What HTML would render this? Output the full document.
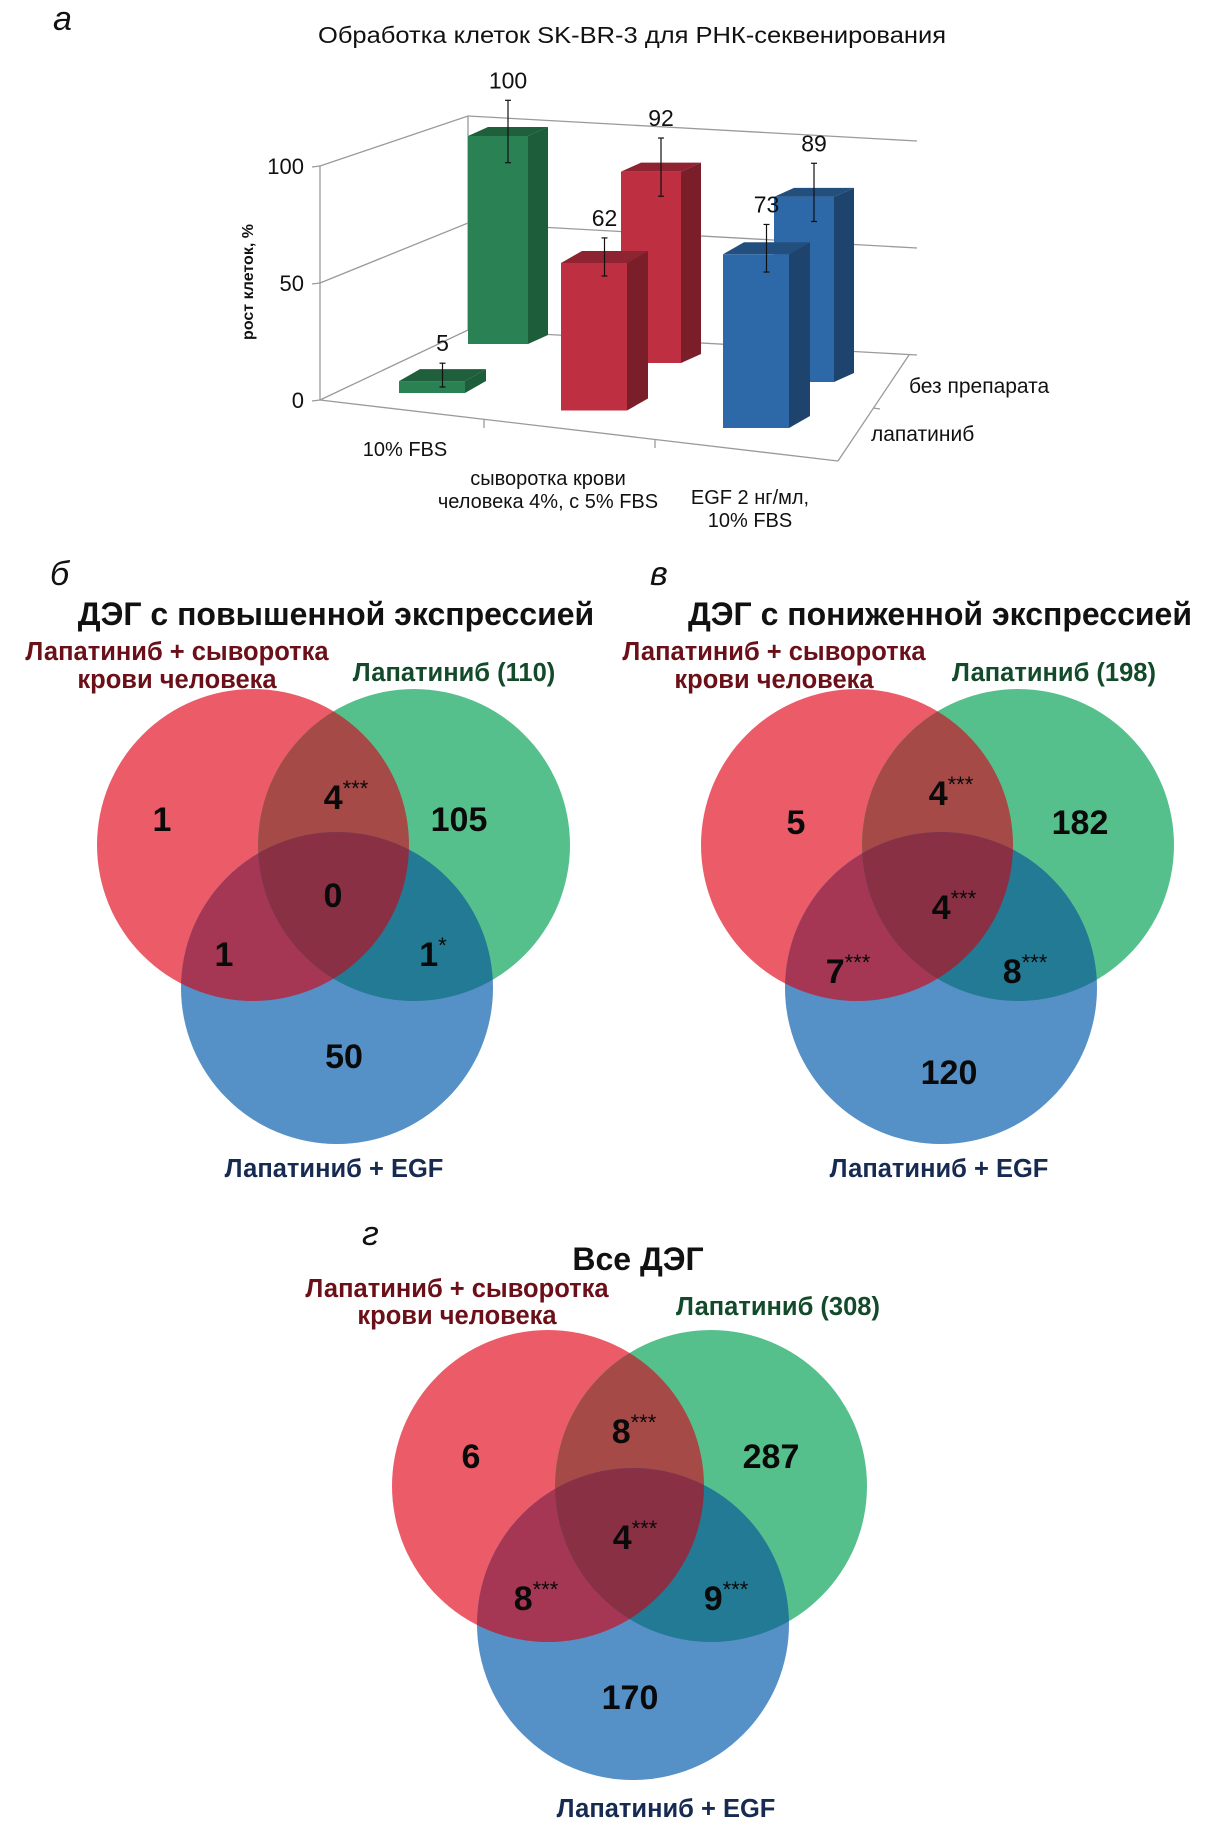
<!DOCTYPE html>
<html><head><meta charset="utf-8">
<style>
html,body{margin:0;padding:0;background:#fff;}
svg{display:block;}
.ch{font-family:"Liberation Sans Narrow","Liberation Sans",sans-serif;fill:#111;}
.vn{font-family:"Liberation Sans","DejaVu Sans",sans-serif;}
</style></head>
<body>
<svg id="root" width="1231" height="1825" viewBox="0 0 1231 1825" xmlns="http://www.w3.org/2000/svg">
<defs>
<clipPath id="cR1"><circle cx="253" cy="845" r="156"/></clipPath>
<clipPath id="cG1"><circle cx="414" cy="845" r="156"/></clipPath>
<clipPath id="cR2"><circle cx="857" cy="845" r="156"/></clipPath>
<clipPath id="cG2"><circle cx="1018" cy="845" r="156"/></clipPath>
<clipPath id="cR3"><circle cx="548" cy="1486" r="156"/></clipPath>
<clipPath id="cG3"><circle cx="711" cy="1486" r="156"/></clipPath>
</defs>
<g id="chart"></g>
<g id="venns"></g>
</svg>
<script>
const NS="http://www.w3.org/2000/svg";
const categories=["10% FBS","сыворотка крови человека 4%, с 5% FBS","EGF 2 нг/мл, 10% FBS"];
const seriesNames=["без препарата","лапатиниб"];
const backValues=[100,92,89];
const frontValues=[5,62,73];
const backErrors=[15,14,14];
const frontErrors=[5,8,10];
const yTicks=[0,50,100];

const vennUpCounts=["1","105","50","4","1","1","0"];
const vennDownCounts=["5","182","120","4","7","8","4"];
const vennAllCounts=["6","287","170","8","8","9","4"];
const vennUpStars=["","","","***","","*",""];
const vennDownStars=["","","","***","***","***","***"];
const vennAllStars=["","","","***","***","***","***"];

function mk(tag,attrs,parent,text){const e=document.createElementNS(NS,tag);for(const k in attrs)e.setAttribute(k,attrs[k]);if(text!==undefined)e.textContent=text;parent.appendChild(e);return e;}

// ---------- 3D bar chart ----------
const chart=document.getElementById('chart');
const backX=i=>468+i*153, backBase=i=>344+i*19, backScale=v=>v*2.08;
const frontX=i=>399+i*162, frontBase=i=>393+i*17.5, frontScale=v=>v*2.38;
const axisY=v=>400-v*2.34;

let t=mk('text',{x:53,y:30,'font-size':34,'font-style':'italic','font-family':'Liberation Sans,sans-serif',fill:'#111'},chart,'а');

t=mk('text',{x:318,y:43,'font-size':23,class:'ch',textLength:628,lengthAdjust:'spacingAndGlyphs'},chart,'Обработка клеток SK-BR-3 для РНК-секвенирования');


const g=mk('g',{stroke:'#9a9a9a','stroke-width':1.3,fill:'none'},chart);

mk('line',{x1:320,y1:166,x2:320,y2:400},g);
mk('line',{x1:320,y1:400,x2:838,y2:461},g);
mk('line',{x1:838,y1:461,x2:909,y2:355},g);
mk('line',{x1:468,y1:116,x2:468,y2:330},g);
yTicks.forEach(v=>{
  const fy=axisY(v), by=116+(100-v)*2.14, ry=141+(100-v)*2.14;
  const gl=mk('polyline',{points:`${320},${fy} ${468},${by} ${917},${ry}`},g);
  
  
  mk('line',{x1:312,y1:fy+1,x2:320,y2:fy},g);
  const tl=mk('text',{x:304,y:fy+8,'text-anchor':'end','font-size':22,class:'ch',stroke:'none'},chart,String(v));
  
  
});
mk('line',{x1:484,y1:419,x2:484,y2:428},g);
mk('line',{x1:655,y1:439,x2:655,y2:448},g);
mk('line',{x1:873,y1:408,x2:880,y2:409},g);
t=mk('text',{transform:'translate(253,282) rotate(-90)','text-anchor':'middle','font-size':16,'font-weight':'bold','font-family':'Liberation Sans,sans-serif',fill:'#111'},chart,'рост клеток, %');


const colors=[['#2a8153','#1d5d3a','#1f5f3c'],['#bd2f41','#7a1f2a','#8e2431'],['#2d69a8','#1e446e','#234f7f']];
function bar(x0,base,h,w,dx,dy,c,name){
  const gb=mk('g',{},chart);
  
  
  const top=base-h;
  mk('polygon',{points:`${x0+w},${top} ${x0+w+dx},${top+dy} ${x0+w+dx},${base+dy} ${x0+w},${base}`,fill:c[1]},gb);
  mk('polygon',{points:`${x0},${top} ${x0+dx},${top+dy} ${x0+w+dx},${top+dy} ${x0+w},${top}`,fill:c[2]},gb);
  mk('rect',{x:x0,y:top,width:w,height:h,fill:c[0]},gb);
  return top;
}
function errbar(cx,cy,e,name){
  const ge=mk('g',{stroke:'#111','stroke-width':1.2},chart);
  
  
  mk('line',{x1:cx,y1:cy-e,x2:cx,y2:cy+e},ge);
  mk('line',{x1:cx-3,y1:cy-e,x2:cx+3,y2:cy-e},ge);
  mk('line',{x1:cx-3,y1:cy+e,x2:cx+3,y2:cy+e},ge);
}
backValues.forEach((v,i)=>{
  const x0=backX(i),w=60,dx=20,dy=-9;
  const top=bar(x0,backBase(i),backScale(v),w,dx,dy,colors[i],'bar-back-'+i);
  const cx=x0+w/2+dx/2,cy=top+dy/2,e=backScale(backErrors[i]);
  errbar(cx,cy,e,'error-bar-back-'+i);
  const l=mk('text',{x:cx,y:cy-e-12,'text-anchor':'middle','font-size':23,class:'ch'},chart,String(v));
  
  
});
frontValues.forEach((v,i)=>{
  const x0=frontX(i),w=66,dx=21,dy=-12;
  const top=bar(x0,frontBase(i),frontScale(v),w,dx,dy,colors[i],'bar-front-'+i);
  const cx=x0+w/2+dx/2,cy=top+dy/2,e=frontScale(frontErrors[i]);
  errbar(cx,cy,e,'error-bar-front-'+i);
  const l=mk('text',{x:cx,y:cy-e-12,'text-anchor':'middle','font-size':23,class:'ch'},chart,String(v));
  
  
});
const catPos=[[405,[456]],[548,[485,508]],[750,[504,527]]];
const catLines=[["10% FBS"],["сыворотка крови","человека 4%, с 5% FBS"],["EGF 2 нг/мл,","10% FBS"]];
catLines.forEach((lines,i)=>{
  lines.forEach((ln,j)=>{
    const l=mk('text',{x:catPos[i][0],y:catPos[i][1][j],'text-anchor':'middle','font-size':20,class:'ch'},chart,ln);
    
    
  });
});
t=mk('text',{x:909,y:393,'font-size':21,class:'ch'},chart,seriesNames[0]);

t=mk('text',{x:871,y:441,'font-size':21,class:'ch'},chart,seriesNames[1]);


// ---------- Venn diagrams ----------
const V=document.getElementById('venns');
const C={R:'#ec5c68',G:'#55c08b',B:'#5590c6',RG:'#a54a47',RB:'#a53754',GB:'#237a94',RGB:'#8a3045'};
function venn(p){
  const gv=mk('g',{},V);
  
  
  const r=156,[rx,ry]=p.r,[gx,gy]=p.g,[bx,by]=p.b;
  let l=mk('text',{x:p.letter[0],y:p.letter[1],'font-size':34,'font-style':'italic','font-family':'Liberation Sans,sans-serif',fill:'#111'},gv,p.letter[2]);
  
  
  l=mk('text',{x:p.title[0],y:p.title[1],'text-anchor':'middle','font-size':p.title[3],'font-weight':'bold',class:'vn',fill:'#111'},gv,p.title[2]);
  
  
  p.redLab.forEach((ln,j)=>{
    const e=mk('text',{x:p.redX,y:p.redY[j],'text-anchor':'middle','font-size':25.5,'font-weight':'bold',class:'vn',fill:'#6b1018'},gv,ln);
    
    
  });
  l=mk('text',{x:p.greenLab[0],y:p.greenLab[1],'text-anchor':'middle','font-size':25.5,'font-weight':'bold',class:'vn',fill:'#124a2a'},gv,p.greenLab[2]);
  
  
  l=mk('text',{x:p.blueLab[0],y:p.blueLab[1],'text-anchor':'middle','font-size':25.5,'font-weight':'bold',class:'vn',fill:'#172b52'},gv,'Лапатиниб + EGF');
  
  
  let c=mk('circle',{cx:rx,cy:ry,r:r,fill:C.R},gv);
  
  c=mk('circle',{cx:gx,cy:gy,r:r,fill:C.G},gv);
  
  c=mk('circle',{cx:bx,cy:by,r:r,fill:C.B},gv);
  
  mk('circle',{cx:gx,cy:gy,r:r,fill:C.RG,'clip-path':`url(#${p.cr})`},gv);
  mk('circle',{cx:bx,cy:by,r:r,fill:C.RB,'clip-path':`url(#${p.cr})`},gv);
  mk('circle',{cx:bx,cy:by,r:r,fill:C.GB,'clip-path':`url(#${p.cg})`},gv);
  const inner=mk('g',{'clip-path':`url(#${p.cr})`},gv);
  mk('circle',{cx:bx,cy:by,r:r,fill:C.RGB,'clip-path':`url(#${p.cg})`},inner);
  p.counts.forEach((v,i)=>{
    const [x,y]=p.pos[i];
    const st=p.stars[i];
    const e=mk('text',{x:x+(st?st.length*6:0),y:y+12,'text-anchor':'middle','font-size':34,'font-weight':'bold',class:'vn',fill:'#0a0a0a'},gv);
    
    
    mk('tspan',{},e,v);
    if(st){mk('tspan',{dy:-13,'font-size':22,'font-weight':'normal'},e,st);}
  });
}
venn({name:'venn-upregulated',r:[253,845],g:[414,845],b:[337,988],cr:'cR1',cg:'cG1',
  letter:[50,585,'б'],title:[336,625,'ДЭГ с повышенной экспрессией',32],
  redLab:['Лапатиниб + сыворотка','крови человека'],redX:177,redY:[660,688],
  greenLab:[454,681,'Лапатиниб (110)'],blueLab:[334,1177],
  counts:vennUpCounts,stars:vennUpStars,
  pos:[[162,819],[459,819],[344,1056],[328,797],[224,954],[427,954],[333,895]]});
venn({name:'venn-downregulated',r:[857,845],g:[1018,845],b:[941,988],cr:'cR2',cg:'cG2',
  letter:[650,585,'в'],title:[940,625,'ДЭГ с пониженной экспрессией',32],
  redLab:['Лапатиниб + сыворотка','крови человека'],redX:774,redY:[660,688],
  greenLab:[1054,681,'Лапатиниб (198)'],blueLab:[939,1177],
  counts:vennDownCounts,stars:vennDownStars,
  pos:[[796,822],[1080,822],[949,1072],[933,793],[830,971],[1007,971],[936,907]]});
venn({name:'venn-all',r:[548,1486],g:[711,1486],b:[633,1624],cr:'cR3',cg:'cG3',
  letter:[362,1245,'г'],title:[638,1270,'Все ДЭГ',32],
  redLab:['Лапатиниб + сыворотка','крови человека'],redX:457,redY:[1297,1324],
  greenLab:[778,1315,'Лапатиниб (308)'],blueLab:[666,1817],
  counts:vennAllCounts,stars:vennAllStars,
  pos:[[471,1456],[771,1456],[630,1697],[616,1431],[518,1598],[708,1598],[617,1537]]});
</script>
</body></html>
